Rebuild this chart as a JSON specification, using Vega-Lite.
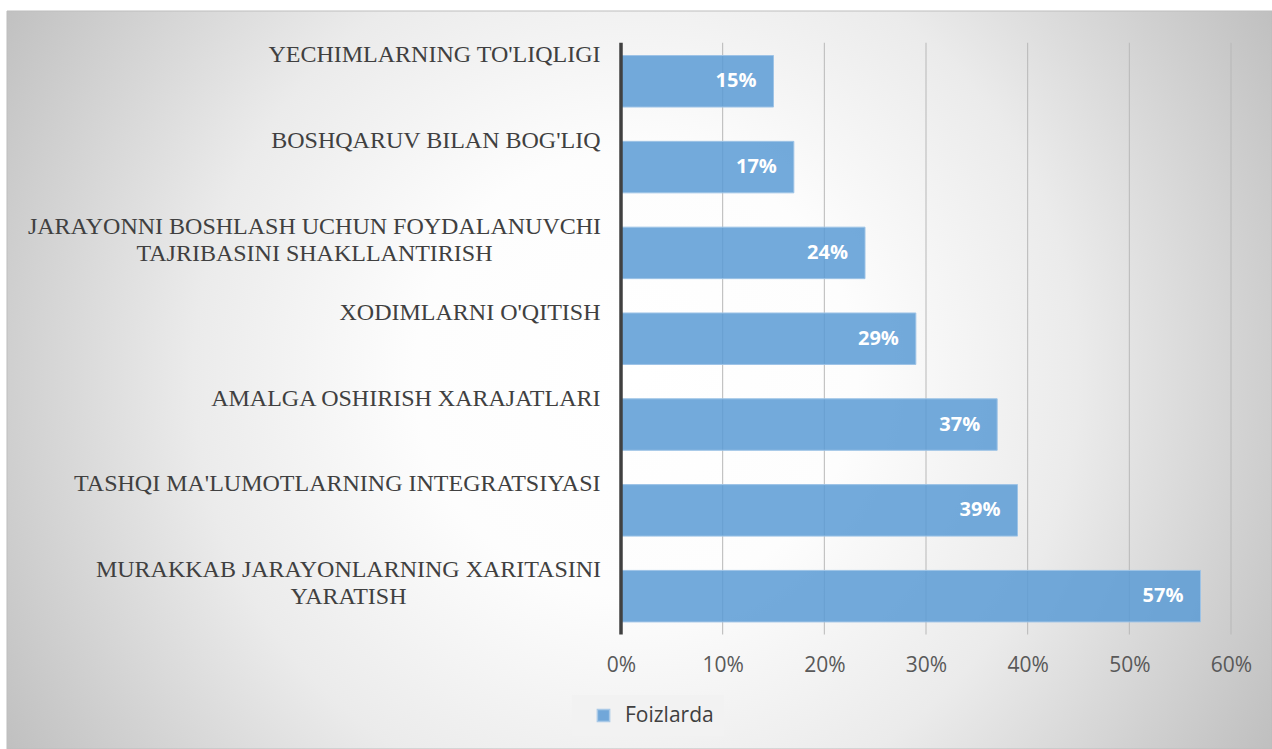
{
  "$schema": "https://vega.github.io/schema/vega-lite/v6.json",
  "width": 610,
  "height": 738,
  "autosize": {"type": "none"},
  "padding": {"left": 621, "top": 11, "right": 41, "bottom": 0},
  "background": "#ffffff",
  "view": {"stroke": null},
  "datasets": {
    "bars": [
      {"label": "YECHIMLARNING TO'LIQLIGI", "value": 0.15, "series": "Foizlarda"},
      {"label": "BOSHQARUV BILAN BOG'LIQ", "value": 0.17, "series": "Foizlarda"},
      {"label": "JARAYONNI BOSHLASH UCHUN FOYDALANUVCHI TAJRIBASINI SHAKLLANTIRISH", "value": 0.24, "series": "Foizlarda"},
      {"label": "XODIMLARNI O'QITISH", "value": 0.29, "series": "Foizlarda"},
      {"label": "AMALGA OSHIRISH XARAJATLARI", "value": 0.37, "series": "Foizlarda"},
      {"label": "TASHQI MA'LUMOTLARNING INTEGRATSIYASI", "value": 0.39, "series": "Foizlarda"},
      {"label": "MURAKKAB JARAYONLARNING XARITASINI YARATISH", "value": 0.57, "series": "Foizlarda"}
    ],
    "grid": [
      {"t": 0.1}, {"t": 0.2}, {"t": 0.3}, {"t": 0.4}, {"t": 0.5}, {"t": 0.6}
    ]
  },
  "layer": [
    {
      "data": {"values": [{}]},
      "mark": {
        "type": "rect",
        "stroke": "#bdbdbd",
        "strokeWidth": 1,
        "fill": {
          "gradient": "radial",
          "x1": 0.4972, "y1": 0.496, "r1": 0,
          "x2": 0.4972, "y2": 0.496, "r2": 0.5834,
          "stops": [
            {"offset": 0, "color": "#ffffff"},
            {"offset": 0.3, "color": "#fdfdfd"},
            {"offset": 0.6, "color": "#ebebeb"},
            {"offset": 1, "color": "#bfbfbf"}
          ]
        }
      },
      "encoding": {
        "x": {"datum": -0.60393, "type": "quantitative"},
        "x2": {"datum": 0.64033}
      }
    },
    {
      "data": {"name": "grid"},
      "mark": {"type": "tick", "orient": "vertical", "color": "#b8b8b8", "size": 591.8, "thickness": 1, "opacity": 1},
      "encoding": {
        "x": {"field": "t", "type": "quantitative"},
        "y": {"datum": "XODIMLARNI O'QITISH", "type": "nominal"}
      }
    },
    {
      "data": {"name": "bars"},
      "mark": {"type": "bar", "fillOpacity": 0.85, "stroke": "#9dc3e6", "strokeWidth": 1},
      "encoding": {
        "y": {
          "field": "label",
          "type": "nominal",
          "sort": null,
          "scale": {
            "domain": [
              "YECHIMLARNING TO'LIQLIGI",
              "BOSHQARUV BILAN BOG'LIQ",
              "JARAYONNI BOSHLASH UCHUN FOYDALANUVCHI TAJRIBASINI SHAKLLANTIRISH",
              "XODIMLARNI O'QITISH",
              "AMALGA OSHIRISH XARAJATLARI",
              "TASHQI MA'LUMOTLARNING INTEGRATSIYASI",
              "MURAKKAB JARAYONLARNING XARITASINI YARATISH"
            ],
            "paddingInner": 0.4,
            "paddingOuter": 1.0643,
            "align": 0.2595,
            "round": false
          },
          "axis": {
            "orient": "left",
            "title": null,
            "zindex": 1,
            "domain": false,
            "ticks": false,
            "grid": false,
            "labelPadding": {
              "condition": [
                {"test": "datum.value == 'JARAYONNI BOSHLASH UCHUN FOYDALANUVCHI TAJRIBASINI SHAKLLANTIRISH'", "value": 307},
                {"test": "datum.value == 'MURAKKAB JARAYONLARNING XARITASINI YARATISH'", "value": 273}
              ],
              "value": 21
            },
            "labelAlign": {
              "condition": {"test": "datum.value == 'JARAYONNI BOSHLASH UCHUN FOYDALANUVCHI TAJRIBASINI SHAKLLANTIRISH' || datum.value == 'MURAKKAB JARAYONLARNING XARITASINI YARATISH'", "value": "center"},
              "value": "right"
            },
            "labelFont": "Liberation Serif",
            "labelFontSize": 24,
            "labelColor": "#404040",
            "labelBaseline": "alphabetic",
            "labelOffset": -19,
            "labelLineHeight": 27,
            "labelLimit": 800,
            "labelExpr": "datum.value == 'JARAYONNI BOSHLASH UCHUN FOYDALANUVCHI TAJRIBASINI SHAKLLANTIRISH' ? ['JARAYONNI BOSHLASH UCHUN FOYDALANUVCHI', 'TAJRIBASINI SHAKLLANTIRISH'] : datum.value == 'MURAKKAB JARAYONLARNING XARITASINI YARATISH' ? ['MURAKKAB JARAYONLARNING XARITASINI', 'YARATISH'] : datum.label"
          }
        },
        "x": {
          "field": "value",
          "type": "quantitative",
          "scale": {"domain": [0, 0.6], "nice": false, "zero": false},
          "axis": {
            "orient": "bottom",
            "zindex": 1,
            "values": [0, 0.1, 0.2, 0.3, 0.4, 0.5, 0.6],
            "format": ".0%",
            "domain": false,
            "ticks": false,
            "grid": false,
            "labelPadding": -95,
            "labelFont": "Open Sans",
            "labelFontSize": 21,
            "labelColor": "#595959",
            "labelFlush": false,
            "labelOverlap": false,
            "title": null
          }
        },
        "color": {
          "field": "series",
          "type": "nominal",
          "scale": {"range": ["#5b9bd5"]},
          "legend": {
            "orient": "none",
            "legendX": -49,
            "legendY": 684,
            "title": null,
            "fillColor": "#f2f2f2",
            "padding": 10,
            "symbolType": "square",
            "symbolSize": 150,
            "symbolOffset": 11,
            "symbolOpacity": 0.85,
            "labelFont": "Open Sans",
            "labelFontSize": 21,
            "labelColor": "#404040",
            "labelOffset": 11
          }
        }
      }
    },
    {
      "data": {"name": "bars"},
      "mark": {
        "type": "text",
        "align": "right",
        "baseline": "middle",
        "dx": -17,
        "font": "Open Sans",
        "fontSize": 20,
        "fontWeight": "bold",
        "color": "#ffffff"
      },
      "encoding": {
        "y": {"field": "label", "type": "nominal", "sort": null},
        "x": {"field": "value", "type": "quantitative"},
        "text": {"field": "value", "type": "quantitative", "format": ".0%"}
      }
    },
    {
      "data": {"values": [{}]},
      "mark": {"type": "tick", "orient": "vertical", "color": "#404040", "size": 591.8, "thickness": 3.5, "opacity": 1},
      "encoding": {
        "x": {"datum": 0, "type": "quantitative"},
        "y": {"datum": "XODIMLARNI O'QITISH", "type": "nominal"}
      }
    }
  ]
}
